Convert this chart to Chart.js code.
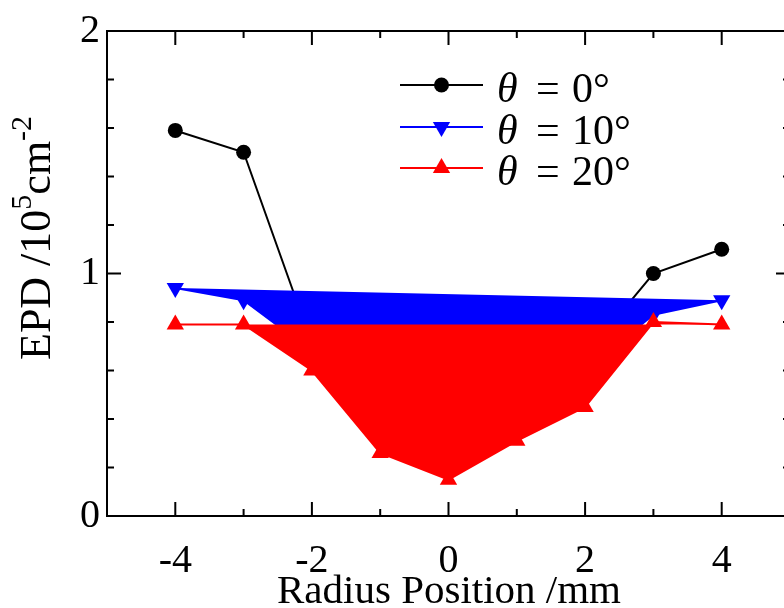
<!DOCTYPE html>
<html>
<head>
<meta charset="utf-8">
<title>EPD vs radius</title>
<script src="https://cdn.jsdelivr.net/npm/chart.js@4.4.0/dist/chart.umd.min.js"></script>
<style>
  body { margin: 0; overflow: hidden; background: #fff; }
  #wrap { width: 800px; height: 608px; }
</style>
</head>
<body>
<div id="wrap"><canvas id="epdChart"></canvas></div>
<script>
// radius positions (mm) and EPD values (10^5 cm^-2) for each tilt angle
const radius = [-4, -3, -2, -1, 0, 1, 2, 3, 4];
const epdTheta0 = [1.59, 1.50, 0.71, 0.60, 0.50, 0.55, 0.66, 1.00, 1.10];
const epdTheta10 = [0.94, 0.89, 0.68, 0.50, 0.40, 0.50, 0.60, 0.83, 0.89];
const epdTheta20 = [0.79, 0.79, 0.60, 0.26, 0.15, 0.31, 0.45, 0.80, 0.79];
const angleLabels = ['0°', '10°', '20°'];

const xTicks = [-4, -2, 0, 2, 4];
const xMinorTicks = [-3, -1, 1, 3];
const yTicks = [0, 1, 2];
const yMinorTicks = [0.2, 0.4, 0.6, 0.8, 1.2, 1.4, 1.6, 1.8];

const SERIF = '"Liberation Serif", "Times New Roman", serif';

function toPoints(ys) {
  return radius.map((x, i) => ({ x: x, y: ys[i] }));
}

function drawMarker(ctx, style, x, y, r, color) {
  ctx.save();
  ctx.fillStyle = color;
  ctx.beginPath();
  if (style === 'circle') {
    ctx.arc(x, y, r, 0, Math.PI * 2);
  } else {
    const dir = style === 'down' ? -1 : 1;
    for (let k = 0; k < 3; k++) {
      const a = k * 2 * Math.PI / 3;
      const px = x + Math.sin(a) * r;
      const py = y - dir * Math.cos(a) * r;
      if (k === 0) ctx.moveTo(px, py); else ctx.lineTo(px, py);
    }
    ctx.closePath();
  }
  ctx.fill();
  ctx.restore();
}

const framePlugin = {
  id: 'frame',
  afterDatasetsDraw(chart) {
    const { ctx, chartArea: a, scales } = chart;
    const xs = scales.x, ys = scales.y;
    ctx.save();
    ctx.strokeStyle = '#000';
    ctx.lineWidth = 2;
    ctx.strokeRect(a.left, a.top, a.right - a.left, a.bottom - a.top);
    ctx.beginPath();
    const xt = (v, len) => {
      const p = xs.getPixelForValue(v);
      ctx.moveTo(p, a.bottom); ctx.lineTo(p, a.bottom - len);
      ctx.moveTo(p, a.top); ctx.lineTo(p, a.top + len);
    };
    const yt = (v, len) => {
      const p = ys.getPixelForValue(v);
      ctx.moveTo(a.left, p); ctx.lineTo(a.left + len, p);
      ctx.moveTo(a.right, p); ctx.lineTo(a.right - len, p);
    };
    xTicks.forEach(v => xt(v, 14));
    xMinorTicks.forEach(v => xt(v, 7));
    yTicks.forEach(v => yt(v, 14));
    yMinorTicks.forEach(v => yt(v, 7));
    ctx.stroke();
    ctx.restore();
  },
  afterDraw(chart) {
    const ctx = chart.ctx;
    ctx.save();
    ctx.fillStyle = '#000';
    ctx.textBaseline = 'alphabetic';

    // x axis title
    ctx.font = '41px ' + SERIF;
    ctx.textAlign = 'center';
    ctx.fillText('Radius Position /mm', 449, 603);

    // y axis title with superscripts
    ctx.save();
    ctx.translate(50, 360);
    ctx.rotate(-Math.PI / 2);
    ctx.textAlign = 'left';
    let x = 0;
    const part = (txt, size, rise) => {
      ctx.font = size + 'px ' + SERIF;
      ctx.fillText(txt, x, -rise);
      x += ctx.measureText(txt).width;
    };
    part('EPD /10', 44, 0);
    part('5', 30, 19);
    part('cm', 44, 0);
    part('-2', 30, 19);
    ctx.restore();

    // legend
    const rows = [85, 127, 168];
    chart.data.datasets.forEach((ds, i) => {
      const y = rows[i];
      ctx.strokeStyle = ds.borderColor;
      ctx.lineWidth = 2;
      ctx.beginPath();
      ctx.moveTo(400, y); ctx.lineTo(483, y);
      ctx.stroke();
      drawMarker(ctx, ds.legendMarker, 441.5, y, ds.pointRadius, ds.borderColor);
      ctx.textAlign = 'left';
      ctx.font = 'italic 42px ' + SERIF;
      ctx.fillText('θ', 497, y + 17);
      ctx.font = '42px ' + SERIF;
      ctx.fillText('=', 536, y + 17);
      ctx.fillText(angleLabels[i], 572, y + 17);
    });
    ctx.restore();
  }
};

new Chart(document.getElementById('epdChart'), {
  type: 'line',
  data: {
    datasets: [
      {
        data: toPoints(epdTheta0),
        borderColor: '#000000',
        backgroundColor: '#000000',
        borderWidth: 2,
        pointStyle: 'circle',
        pointRadius: 7.5,
        pointBorderWidth: 0,
        legendMarker: 'circle',
        fill: false,
        order: 3
      },
      {
        data: toPoints(epdTheta10),
        borderColor: '#0000ff',
        backgroundColor: '#0000ff',
        borderWidth: 2,
        pointStyle: 'triangle',
        rotation: 180,
        pointRadius: 10,
        pointBorderWidth: 0,
        legendMarker: 'down',
        fill: 'shape',
        order: 2
      },
      {
        data: toPoints(epdTheta20),
        borderColor: '#ff0000',
        backgroundColor: '#ff0000',
        borderWidth: 2,
        pointStyle: 'triangle',
        pointRadius: 10,
        pointBorderWidth: 0,
        legendMarker: 'up',
        fill: 'shape',
        order: 1
      }
    ]
  },
  options: {
    responsive: true,
    maintainAspectRatio: false,
    animation: false,
    layout: { padding: { left: 0, right: 8, top: 27, bottom: 0 } },
    plugins: {
      legend: { display: false },
      tooltip: { enabled: false }
    },
    scales: {
      x: {
        type: 'linear',
        min: -5,
        max: 5,
        afterBuildTicks: s => { s.ticks = xTicks.map(v => ({ value: v })); },
        afterFit: s => { s.height = 92; },
        grid: { display: false, drawTicks: false },
        border: { display: false },
        ticks: {
          padding: 21,
          color: '#000',
          font: { family: SERIF, size: 40 }
        }
      },
      y: {
        min: 0,
        max: 2,
        afterBuildTicks: s => { s.ticks = yTicks.map(v => ({ value: v })); },
        afterFit: s => { s.width = 107; },
        grid: { display: false, drawTicks: false },
        border: { display: false },
        ticks: {
          padding: 7,
          color: '#000',
          font: { family: SERIF, size: 40 }
        }
      }
    }
  },
  plugins: [framePlugin]
});
</script>
</body>
</html>
